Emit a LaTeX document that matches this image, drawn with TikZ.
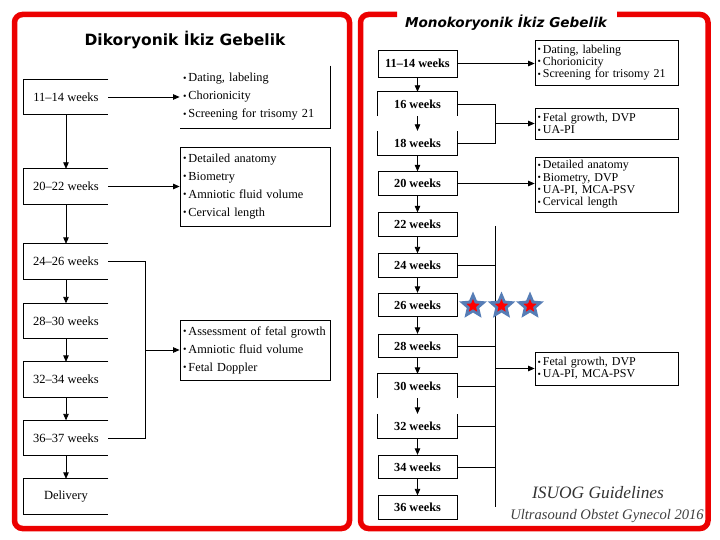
\documentclass[tikz,border=0pt]{standalone}
\usepackage{fontspec}
\usepackage{graphicx}
\setmainfont{Liberation Serif}
\newfontfamily\titlefont{DejaVu Sans}
\usetikzlibrary{arrows.meta,shapes.geometric}
\definecolor{frame}{RGB}{236,0,0}
\definecolor{starblue}{RGB}{86,125,182}
\newcommand\bul{\raisebox{0.1ex}{\scalebox{0.8}{\textbullet}}\,}
\begin{document}
\begin{tikzpicture}[x=1pt,y=-1pt,
  line width=0.8pt,
  arr/.style={-{Triangle[length=6.5pt,width=5.5pt]}},
  redframe/.style={draw=frame,line width=5.5pt,rounded corners=8pt},
  lwk/.style={minimum width=84pt,minimum height=34.5pt,inner sep=0pt,font=\fontsize{12.5}{14}\selectfont},
  rwk/.style={minimum width=79pt,minimum height=23.5pt,inner sep=0pt,font=\fontsize{12.3}{14}\selectfont\bfseries},
  linfo/.style={text width=144pt,inner xsep=3pt,inner ysep=0pt,align=left,font=\fontsize{12.3}{18}\selectfont},
  rinfo/.style={text width=138pt,inner xsep=2.5pt,inner ysep=0pt,align=left,font=\fontsize{12}{12.3}\selectfont},
  bigstar/.style={star,star points=5,star point ratio=2.2,inner sep=0pt,fill=starblue,minimum size=29pt},
  smallstar/.style={star,star points=5,star point ratio=2.2,inner sep=0pt,fill=red,minimum size=14pt}]
\useasboundingbox (0,0) rectangle (720,540);
\fill[white] (0,0) rectangle (720,540);

% frames
\draw[redframe] (14.5,14.5) rectangle (349.5,528.5);
\draw[redframe] (397,14.5) -- (360.5,14.5) -- (360.5,528.5) -- (708,528.5) -- (708,14.5) -- (617,14.5);

% titles
\node[font=\titlefont\bfseries\fontsize{15.5}{18}\selectfont] (tl) at (185,40) {Dikoryonik İkiz Gebelik};
\node[font=\titlefont\bfseries\itshape\fontsize{13.6}{16}\selectfont] (tr) at (506,23) {Monokoryonik İkiz Gebelik};

% ---------------- left panel ----------------
\node[lwk] (b1) at (66,97) {11–14 weeks};
\node[lwk] (b2) at (66,186.5) {20–22 weeks};
\node[lwk] (b3) at (66,261.5) {24–26 weeks};
\node[lwk] (b4) at (66,321) {28–30 weeks};
\node[lwk] (b5) at (66,379.5) {32–34 weeks};
\node[lwk] (b6) at (66,438) {36–37 weeks};
\node[lwk] (b7) at (66,496.5) {Delivery};
\foreach \b in {b1,b2,b3,b4,b5,b6,b7}
  \draw (\b.north east) -- (\b.north west) -- (\b.south west) -- (\b.south east);

\node[linfo,minimum height=62pt] (i1) at (255,97) {\bul Dating, labeling\\ \bul Chorionicity\\ \bul Screening for trisomy 21};
\draw (i1.north east) -- (i1.south east) -- (i1.south west);
\node[linfo,draw,minimum height=79pt] (i2) at (255,186.5) {\bul Detailed anatomy\\ \bul Biometry\\ \bul Amniotic fluid volume\\ \bul Cervical length};
\node[linfo,draw,minimum height=60pt] (i3) at (255,350) {\bul Assessment of fetal growth\\ \bul Amniotic fluid volume\\ \bul Fetal Doppler};

\draw[arr] (b1) -- (b2);
\draw[arr] (b2) -- (b3);
\draw[arr] (b3) -- (b4);
\draw[arr] (b4) -- (b5);
\draw[arr] (b5) -- (b6);
\draw[arr] (b6) -- (b7);
\draw[arr] (b1.east) -- (i1.west);
\draw[arr] (b2.east) -- (i2.west);
\coordinate (lb) at (145,0);
\draw (b3.east) -| (lb |- b6.east) -- (b6.east);
\draw[arr] (lb |- i3.west) -- (i3.west);

% ---------------- right panel ----------------
\node[rwk,draw,minimum height=27pt] (r1) at (417.5,63.5) {11–14 weeks};
\node[rwk] (r2) at (417.5,104) {16 weeks};
\node[rwk] (r3) at (417.5,143) {18 weeks};
\node[rwk,draw] (r4) at (417.5,183.5) {20 weeks};
\node[rwk,draw] (r5) at (417.5,224.5) {22 weeks};
\node[rwk,draw] (r6) at (417.5,265.5) {24 weeks};
\node[rwk,draw] (r7) at (417.5,305) {26 weeks};
\node[rwk,draw] (r8) at (417.5,346) {28 weeks};
\node[rwk] (r9) at (417.5,386) {30 weeks};
\node[rwk] (r10) at (417.5,426) {32 weeks};
\node[rwk,draw] (r11) at (417.5,467) {34 weeks};
\node[rwk,draw] (r12) at (417.5,507.5) {36 weeks};
\draw (r2.south west) -- (r2.north west) -- (r2.north east) -- (r2.south east);
\draw (r3.north west) -- (r3.south west) -- (r3.south east) -- (r3.north east);
\draw (r9.south west) -- (r9.north west) -- (r9.north east) -- (r9.south east);
\draw (r10.north west) -- (r10.south west) -- (r10.south east) -- (r10.north east);

\draw[arr] (r1) -- (r2);
\draw[arr] (r2) -- (r3);
\draw[arr] (r3) -- (r4);
\draw[arr] (r4) -- (r5);
\draw[arr] (r5) -- (r6);
\draw[arr] (r6) -- (r7);
\draw[arr] (r7) -- (r8);
\draw[arr] (r8) -- (r9);
\draw[arr] (r9) -- (r10);
\draw[arr] (r10) -- (r11);
\draw[arr] (r11) -- (r12);

\node[rinfo,draw,minimum height=45pt] (ri1) at (606.5,62.5) {\bul Dating, labeling\\ \bul Chorionicity\\ \bul Screening for trisomy 21};
\node[rinfo,draw,minimum height=31pt] (ri2) at (606.5,123.5) {\bul Fetal growth, DVP\\ \bul UA-PI};
\node[rinfo,draw,minimum height=55pt] (ri3) at (606.5,184.5) {\bul Detailed anatomy\\ \bul Biometry, DVP\\ \bul UA-PI, MCA-PSV\\ \bul Cervical length};
\node[rinfo,draw,minimum height=33pt] (ri4) at (606.5,368.5) {\bul Fetal growth, DVP\\ \bul UA-PI, MCA-PSV};

\draw[arr] (r1.east) -- (r1.east -| ri1.west);
\coordinate (rb) at (495,0);
\draw (r2.east) -| (rb |- r3.east) -- (r3.east);
\draw[arr] (rb |- ri2.west) -- (ri2.west);
\draw[arr] (r4.east) -- (r4.east -| ri3.west);
\coordinate (bt) at (495,226);
\coordinate (bb) at (495,507);
\draw (bt) -- (bb);
\foreach \r in {r6,r8,r9,r10,r11}
  \draw (\r.east) -- (\r.east -| bt);
\draw[arr] (bt |- ri4.west) -- (ri4.west);

% stars
\foreach \i/\x in {1/473,2/501.5,3/530}{
  \node[bigstar] (sb\i) at (\x,306) {};
  \node[smallstar] (sr\i) at (sb\i) {};
}

% credits
\node[font=\fontsize{17.4}{20}\selectfont\itshape,text=black!80] (isu) at (598,493) {ISUOG Guidelines};
\node[font=\fontsize{14.6}{17}\selectfont\itshape,text=black!75] (uog) at (607,516) {Ultrasound Obstet Gynecol 2016};
\end{tikzpicture}
\end{document}
